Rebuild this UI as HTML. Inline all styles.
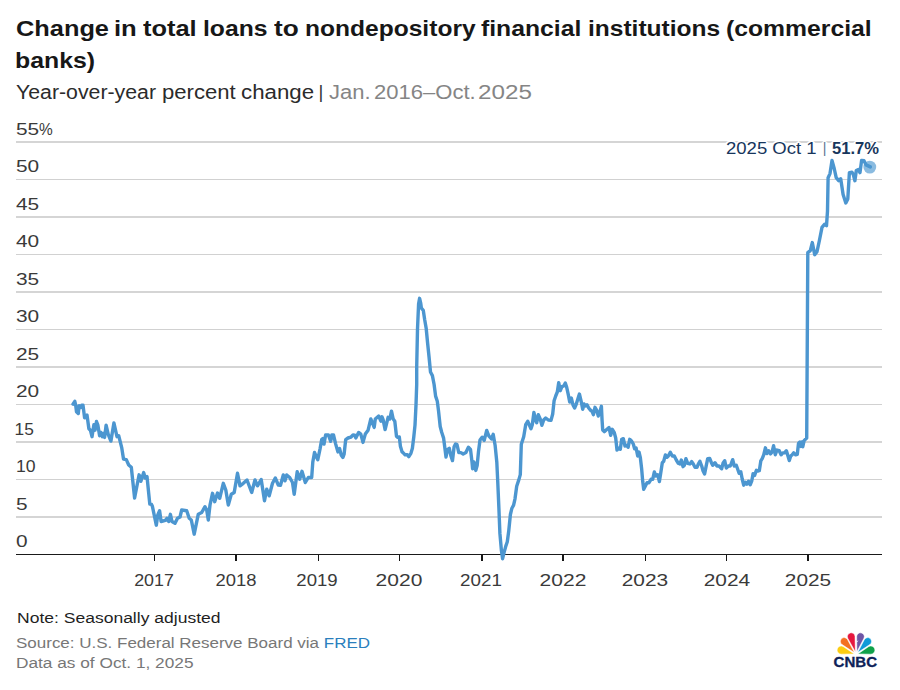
<!DOCTYPE html>
<html><head><meta charset="utf-8"><title>Chart</title>
<style>
html,body{margin:0;padding:0;background:#fff;}
body{width:900px;height:690px;position:relative;overflow:hidden;font-family:"Liberation Sans",sans-serif;color:#1f1f1f;}
.abs{position:absolute;white-space:nowrap;transform-origin:0 0;}
.tw{font-size:22.5px;line-height:32px;font-weight:bold;color:#171717;}
.sw{font-size:19.5px;line-height:24px;color:#2b2b2b;}
#sub span{color:#858585;}
.pc{display:inline-block;transform-origin:0 50%;transform:scaleX(0.74);}
.yl{position:absolute;left:15.6px;font-size:17.3px;line-height:20px;color:#3a3a3a;transform-origin:0 0;transform:scaleX(1.2062);white-space:nowrap;}
.xl{position:absolute;top:570px;width:60px;text-align:center;font-size:17.3px;line-height:20px;color:#3a3a3a;transform:scaleX(1.0);}
#note{left:16.8px;top:607.5px;font-size:15.5px;line-height:20px;color:#1f1f1f;transform:scaleX(1.13);}
#src{left:15.7px;top:632.6px;font-size:15.5px;line-height:20px;color:#777;transform:scaleX(1.0958);}
#src span{color:#2b7fbd;}
#data{left:15.6px;top:653.2px;font-size:15.5px;line-height:20px;color:#777;transform:scaleX(1.1135);}
.ann{top:138.3px;font-size:16.25px;line-height:20px;color:#17365c;}
#ann{left:725.7px;transform:scaleX(1.1396);}
#annbar{left:822.7px;}
#annb{left:832.2px;transform:scaleX(1.02);}
.ann{text-shadow:-1px -1px 0 #fff,1px -1px 0 #fff,-1px 1px 0 #fff,1px 1px 0 #fff,0 -2px 0 #fff,0 2px 0 #fff,-2px 0 0 #fff,2px 0 0 #fff;}
.ann b{font-weight:bold;}
.ann i{font-style:normal;color:#5d7391;font-size:14px;position:relative;top:-1px;}
svg{position:absolute;left:0;top:0;}
</style></head><body>
<svg width="900" height="690" viewBox="0 0 900 690">
<g><line x1="16" x2="882" y1="142.0" y2="142.0" stroke-width="2" stroke="#d5d5d5"/><line x1="16" x2="882" y1="179.5" y2="179.5" stroke-width="1" stroke="#d1d1d1"/><line x1="16" x2="882" y1="217.0" y2="217.0" stroke-width="2" stroke="#d5d5d5"/><line x1="16" x2="882" y1="254.5" y2="254.5" stroke-width="1" stroke="#d1d1d1"/><line x1="16" x2="882" y1="292.0" y2="292.0" stroke-width="2" stroke="#d5d5d5"/><line x1="16" x2="882" y1="329.5" y2="329.5" stroke-width="1" stroke="#d1d1d1"/><line x1="16" x2="882" y1="367.0" y2="367.0" stroke-width="2" stroke="#d5d5d5"/><line x1="16" x2="882" y1="404.5" y2="404.5" stroke-width="1" stroke="#d1d1d1"/><line x1="16" x2="882" y1="442.0" y2="442.0" stroke-width="2" stroke="#d5d5d5"/><line x1="16" x2="882" y1="479.5" y2="479.5" stroke-width="1" stroke="#d1d1d1"/><line x1="16" x2="882" y1="517.0" y2="517.0" stroke-width="2" stroke="#d5d5d5"/></g>
<line x1="16" x2="882" y1="554.5" y2="554.5" stroke="#1a1a1a" stroke-width="1"/>
<g fill="#161616" shape-rendering="crispEdges"><rect x="154" y="555" width="1" height="6"/><rect x="235" y="555" width="2" height="6"/><rect x="318" y="555" width="1" height="6"/><rect x="399" y="555" width="1" height="6"/><rect x="481" y="555" width="2" height="6"/><rect x="562" y="555" width="2" height="6"/><rect x="645" y="555" width="1" height="6"/><rect x="726" y="555" width="1" height="6"/><rect x="807" y="555" width="2" height="6"/></g>
<path d="M73.0,404.1 L74.8,401.3 L75.7,405.2 L76.5,411.7 L78.3,413.5 L79.1,405.7 L80.7,407.4 L81.7,405.2 L83.0,405.2 L84.6,417.8 L87.0,415.0 L88.9,428.7 L90.4,430.2 L92.0,436.7 L93.9,424.8 L95.0,430.2 L96.5,421.5 L97.8,424.8 L99.6,435.7 L100.9,432.4 L102.4,436.7 L103.5,433.5 L104.6,437.4 L106.1,425.2 L108.3,434.6 L110.9,441.1 L113.9,423.0 L117.0,436.7 L118.7,435.7 L121.7,447.6 L123.5,459.1 L126.3,459.6 L128.7,465.0 L131.3,467.2 L134.6,498.0 L139.1,474.8 L140.9,481.3 L143.7,472.6 L145.2,478.0 L147.0,476.5 L149.8,504.1 L151.3,504.1 L152.4,506.3 L156.3,525.2 L157.8,515.0 L159.6,510.7 L161.1,521.5 L165.4,520.4 L167.0,518.3 L168.7,521.5 L170.4,514.3 L172.0,521.5 L175.0,523.3 L177.5,518.3 L180.0,517.0 L181.7,510.0 L186.7,510.8 L189.2,518.3 L191.3,520.0 L194.2,534.2 L198.3,514.2 L201.7,512.5 L205.0,506.7 L206.7,510.0 L208.3,520.0 L210.0,505.0 L212.5,493.3 L214.7,501.7 L217.5,493.0 L219.7,498.3 L223.3,483.3 L225.8,490.0 L228.3,505.0 L231.3,494.2 L234.2,492.5 L237.5,473.3 L240.0,485.8 L243.3,483.3 L247.0,480.0 L251.7,492.5 L255.0,480.0 L257.5,485.8 L261.2,479.5 L264.5,500.8 L266.7,489.2 L269.2,495.8 L272.5,483.3 L275.3,478.0 L278.3,485.0 L280.5,485.3 L283.3,475.0 L285.0,480.8 L286.7,475.0 L289.7,477.5 L292.5,482.5 L294.2,494.2 L297.2,471.7 L299.7,479.2 L302.0,471.3 L305.3,482.5 L308.3,477.5 L311.7,477.5 L312.8,462.0 L314.5,452.5 L316.2,456.4 L317.8,459.7 L320.1,448.6 L321.7,439.6 L322.9,438.5 L324.0,444.1 L325.6,435.0 L328.4,435.0 L330.7,441.3 L331.8,435.0 L333.5,435.0 L335.7,444.1 L337.9,451.9 L339.6,448.6 L341.3,455.3 L342.9,457.5 L344.1,454.2 L345.7,439.6 L348.0,438.0 L350.8,437.2 L353.0,435.0 L354.7,435.2 L355.8,438.0 L358.6,432.4 L360.8,434.1 L363.0,442.4 L365.3,434.1 L368.1,430.2 L370.8,419.0 L372.0,421.8 L374.2,427.4 L375.3,419.0 L378.7,416.0 L380.9,421.2 L382.0,416.8 L383.1,419.6 L385.1,429.6 L388.1,417.3 L389.8,419.0 L391.5,411.2 L393.2,419.0 L394.8,421.2 L396.5,436.3 L397.6,437.4 L399.3,436.9 L400.4,446.3 L402.1,451.9 L403.0,452.6 L405.1,454.8 L407.3,454.8 L408.8,456.7 L410.9,453.3 L412.4,448.3 L413.8,436.7 L415.0,425.1 L416.0,404.8 L416.7,384.5 L416.7,366.9 L417.5,329.2 L418.6,303.8 L419.6,298.3 L420.7,303.1 L421.4,308.2 L423.3,310.4 L424.7,319.8 L426.2,328.5 L427.6,343.0 L429.1,357.5 L430.5,372.0 L432.4,375.6 L434.1,384.5 L435.6,396.1 L437.3,401.2 L438.5,410.6 L440.2,426.5 L441.7,432.3 L443.6,438.1 L445.0,449.0 L446.0,457.0 L447.5,449.7 L449.3,448.3 L450.8,455.5 L452.5,460.6 L454.1,446.8 L455.6,443.9 L457.0,444.6 L458.8,452.6 L460.9,452.6 L463.2,454.0 L465.9,452.6 L468.4,447.3 L470.5,449.4 L472.0,462.0 L472.6,468.7 L473.9,462.0 L475.8,470.4 L477.2,465.2 L478.5,451.5 L480.0,440.0 L482.1,437.2 L484.2,440.4 L486.7,430.5 L488.8,435.8 L491.5,438.9 L493.2,434.3 L495.1,445.2 L496.8,462.0 L497.8,483.0 L498.9,508.2 L499.9,533.4 L501.4,550.3 L502.6,558.7 L504.1,552.4 L505.8,546.1 L507.3,541.8 L508.7,531.3 L510.4,514.5 L511.9,508.2 L513.6,505.1 L515.0,498.8 L516.7,486.2 L518.8,479.9 L520.3,474.6 L521.3,444.2 L521.4,444.0 L523.7,436.7 L525.7,424.7 L527.7,421.3 L531.0,428.7 L532.3,424.7 L533.9,412.4 L535.7,420.7 L536.7,422.7 L538.3,414.7 L540.3,419.3 L541.9,425.3 L543.7,420.0 L545.7,418.0 L548.3,420.0 L551.0,420.4 L552.7,414.0 L554.1,400.7 L555.7,396.0 L557.3,392.0 L558.7,382.7 L560.3,390.7 L561.9,386.7 L563.7,386.0 L565.3,383.1 L566.7,387.3 L568.3,394.7 L569.7,402.0 L571.3,398.0 L573.0,404.9 L574.6,408.0 L576.3,404.0 L579.4,394.0 L581.3,402.0 L582.7,409.3 L584.1,404.0 L585.7,406.0 L587.0,404.7 L588.7,408.0 L590.3,410.0 L592.1,411.3 L593.4,414.7 L595.0,407.3 L596.6,410.0 L598.3,416.0 L600.1,411.3 L601.4,406.3 L602.1,420.7 L602.7,430.0 L604.3,431.6 L607.0,429.3 L609.0,427.6 L610.7,435.3 L612.3,429.3 L614.3,432.7 L615.7,438.0 L617.0,450.0 L619.0,448.0 L620.3,449.3 L621.7,439.3 L623.3,438.7 L625.0,446.0 L626.7,445.3 L628.1,447.3 L629.7,439.3 L631.7,441.3 L633.3,444.0 L634.6,448.7 L636.1,448.0 L637.7,456.0 L639.0,452.0 L640.3,457.3 L641.7,469.3 L642.7,481.3 L643.7,489.3 L645.0,486.7 L647.0,482.7 L649.0,482.7 L651.0,479.3 L652.7,479.3 L654.3,472.0 L655.9,476.0 L657.7,474.7 L659.4,481.6 L660.7,473.3 L662.3,462.7 L663.7,461.3 L665.4,454.9 L667.0,457.3 L668.3,456.0 L670.3,452.3 L672.3,456.0 L674.3,456.0 L676.3,460.0 L678.3,463.3 L679.9,464.0 L681.3,460.0 L683.0,466.7 L684.3,465.3 L685.9,458.7 L687.7,463.3 L689.9,464.0 L691.7,461.6 L693.3,464.0 L695.0,467.3 L697.0,467.3 L698.3,464.0 L699.9,461.3 L701.7,466.0 L703.0,470.7 L704.6,474.0 L706.3,465.3 L707.7,458.7 L709.7,458.4 L711.4,462.7 L712.7,465.3 L715.0,462.7 L717.0,466.0 L719.0,466.0 L721.7,468.7 L723.0,463.3 L724.7,460.7 L726.3,468.0 L728.3,466.0 L730.3,466.0 L732.7,459.7 L734.3,466.0 L736.3,465.3 L739.1,473.2 L740.8,471.7 L742.2,479.0 L743.7,485.2 L745.4,482.3 L746.9,484.1 L748.5,481.2 L750.2,484.8 L751.7,481.2 L753.1,473.6 L754.6,475.4 L756.4,470.3 L757.9,471.0 L759.3,470.7 L760.8,460.9 L762.2,458.7 L763.7,454.8 L765.4,447.8 L766.9,453.6 L768.6,450.7 L770.5,453.9 L772.0,452.2 L773.6,445.7 L775.3,454.8 L777.0,450.0 L779.2,450.7 L781.1,454.8 L782.8,452.9 L784.6,452.9 L786.4,450.7 L787.9,455.8 L789.3,460.6 L790.8,455.8 L792.2,454.8 L793.7,452.9 L795.6,454.8 L797.3,454.3 L798.5,443.5 L799.9,442.0 L800.9,446.4 L802.0,442.0 L802.8,446.7 L804.1,440.6 L806.7,438.0 L807.8,252.7 L810.3,250.7 L812.3,242.6 L814.7,254.7 L817.0,251.7 L819.4,240.5 L822.0,227.4 L824.5,224.3 L826.5,225.7 L827.5,211.1 L828.1,177.7 L830.0,173.6 L832.0,160.4 L834.2,168.5 L836.2,177.7 L838.7,180.7 L840.7,178.7 L843.1,194.5 L845.8,203.0 L847.8,199.0 L849.4,172.6 L851.9,172.2 L853.3,174.6 L854.9,180.7 L856.3,170.6 L858.4,169.6 L860.0,172.6 L861.6,160.4 L864.0,160.8 L866.1,164.9 L870.3,166.9" fill="none" stroke="#4c96d0" stroke-width="3.4" stroke-linejoin="round" stroke-linecap="round"/>
<circle cx="869.8" cy="167.1" r="6.4" fill="#4c96d0" fill-opacity="0.65"/>
<g stroke="#fff" stroke-width="0.5" stroke-linejoin="round"><path d="M854.20,653.90 L843.49,646.70 A4.1,4.1 0 1 0 841.29,654.20 Z" fill="#fccc12"/><path d="M854.40,652.60 L847.56,639.63 A3.8,3.8 0 1 0 842.12,644.58 Z" fill="#f37021"/><path d="M855.30,651.80 L855.00,636.53 A3.8,3.8 0 1 0 847.88,638.45 Z" fill="#e6173e"/><path d="M856.90,651.80 L863.87,638.35 A3.8,3.8 0 1 0 856.70,636.65 Z" fill="#6e55a5"/><path d="M857.70,652.60 L869.80,644.57 A3.8,3.8 0 1 0 864.32,639.67 Z" fill="#0e9bd8"/><path d="M857.90,653.90 L870.70,654.20 A4.1,4.1 0 1 0 868.50,646.71 Z" fill="#0fa14a"/></g><path d="M856.6,641.2 L858.6,640.4 L856.9,642.3 Z" fill="#fff"/><text x="833.6" y="666.6" font-family="Liberation Sans, sans-serif" font-weight="bold" font-size="14.3" fill="#0d2259" textLength="43.4" lengthAdjust="spacingAndGlyphs" stroke="#0d2259" stroke-width="0.3">CNBC</text>
</svg>
<div class="abs tw" style="left:15.59px;top:12.6px;transform:scaleX(1.1267);">Change</div><div class="abs tw" style="left:113.85px;top:12.6px;transform:scaleX(1.1394);">in</div><div class="abs tw" style="left:143.06px;top:12.6px;transform:scaleX(1.1297);">total</div><div class="abs tw" style="left:202.73px;top:12.6px;transform:scaleX(1.0973);">loans</div><div class="abs tw" style="left:273.71px;top:12.6px;transform:scaleX(1.1641);">to</div><div class="abs tw" style="left:304.64px;top:12.6px;transform:scaleX(1.0919);">nondepository</div><div class="abs tw" style="left:481.08px;top:12.6px;transform:scaleX(1.0983);">financial</div><div class="abs tw" style="left:588.22px;top:12.6px;transform:scaleX(1.0903);">institutions</div><div class="abs tw" style="left:725.98px;top:12.6px;transform:scaleX(1.0988);">(commercial</div><div class="abs tw" style="left:15.14px;top:44.6px;transform:scaleX(1.1036);">banks)</div>
<div class="abs sw" style="left:16.26px;top:80.3px;transform:scaleX(1.0917);">Year-over-year</div><div class="abs sw" style="left:162.15px;top:80.3px;transform:scaleX(1.1323);">percent</div><div class="abs sw" style="left:240.92px;top:80.3px;transform:scaleX(1.1415);">change</div><div class="abs sw" style="left:318.54px;top:80.3px;transform:scaleX(1.0);font-size:18.5px;margin-top:-0.5px;color:#333">|</div><div class="abs sw" style="left:328.59px;top:80.3px;transform:scaleX(1.1284);color:#858585">Jan.</div><div class="abs sw" style="left:373.73px;top:80.3px;transform:scaleX(1.1295);color:#858585">2016–Oct.</div><div class="abs sw" style="left:478.09px;top:80.3px;transform:scaleX(1.242);color:#858585">2025</div>
<div class="yl" style="top:118.8px;left:15.6px;transform:scaleX(1.2062)">55<span class="pc">%</span></div><div class="yl" style="top:156.3px;left:15.6px;transform:scaleX(1.2062)">50</div><div class="yl" style="top:193.8px;left:15.6px;transform:scaleX(1.2062)">45</div><div class="yl" style="top:231.3px;left:15.6px;transform:scaleX(1.2062)">40</div><div class="yl" style="top:268.8px;left:15.6px;transform:scaleX(1.2062)">35</div><div class="yl" style="top:306.3px;left:15.6px;transform:scaleX(1.2062)">30</div><div class="yl" style="top:343.8px;left:15.6px;transform:scaleX(1.2062)">25</div><div class="yl" style="top:381.3px;left:15.6px;transform:scaleX(1.2062)">20</div><div class="yl" style="top:418.8px;left:14.6px;transform:scaleX(1.0)">15</div><div class="yl" style="top:456.3px;left:15.6px;transform:scaleX(1.02)">10</div><div class="yl" style="top:493.8px;left:15.6px;transform:scaleX(1.2062)">5</div><div class="yl" style="top:531.3px;left:15.6px;transform:scaleX(1.2062)">0</div>
<div class="xl" style="left:123.75px;transform:scaleX(1.032)">2017</div><div class="xl" style="left:205.65px;transform:scaleX(1.065)">2018</div><div class="xl" style="left:287.05px;transform:scaleX(1.075)">2019</div><div class="xl" style="left:368.90px;transform:scaleX(1.216)">2020</div><div class="xl" style="left:451.20px;transform:scaleX(1.086)">2021</div><div class="xl" style="left:532.50px;transform:scaleX(1.216)">2022</div><div class="xl" style="left:614.60px;transform:scaleX(1.208)">2023</div><div class="xl" style="left:696.60px;transform:scaleX(1.208)">2024</div><div class="xl" style="left:778.20px;transform:scaleX(1.205)">2025</div>
<div id="ann" class="abs ann">2025 Oct 1</div><div id="annbar" class="abs ann"><i>|</i></div><div id="annb" class="abs ann"><b>51.7%</b></div>
<div id="note" class="abs">Note: Seasonally adjusted</div>
<div id="src" class="abs">Source: U.S. Federal Reserve Board via <span>FRED</span></div>
<div id="data" class="abs">Data as of Oct. 1, 2025</div>
</body></html>
